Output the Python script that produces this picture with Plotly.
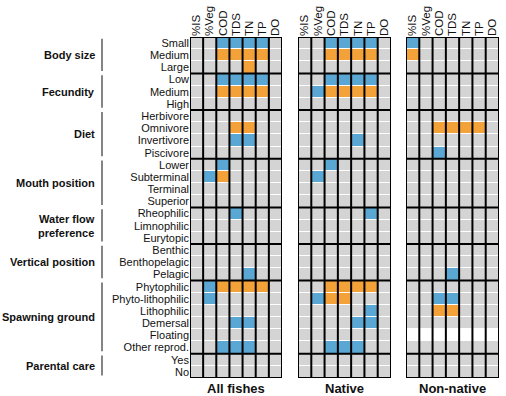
import plotly.graph_objects as go
import numpy as np

variables = ["%IS", "%Veg", "COD", "TDS", "TN", "TP", "DO"]
groups = ["Body size", "Fecundity", "Diet", "Mouth position", "Water flow<br>preference",
          "Vertical position", "Spawning ground", "Parental care"]
group_traits = [
    ["Small", "Medium", "Large"],
    ["Low", "Medium", "High"],
    ["Herbivore", "Omnivore", "Invertivore", "Piscivore"],
    ["Lower", "Subterminal", "Terminal", "Superior"],
    ["Rheophilic", "Limnophilic", "Eurytopic"],
    ["Benthic", "Benthopelagic", "Pelagic"],
    ["Phytophilic", "Phyto-lithophilic", "Lithophilic", "Demersal", "Floating", "Other reprod."],
    ["Yes", "No"],
]
panels = ["All fishes", "Native", "Non-native"]

N = None  # not available
# -1 = negative (blue), 1 = positive (orange), 0 = none (grey), None = NA (white)
all_fishes = [
    [0, 0, -1, -1, -1, -1, 0], [0, 0, 1, 1, 1, 1, 0], [0, 0, 0, 0, 1, 0, 0],
    [0, 0, -1, -1, -1, -1, 0], [0, 0, 1, 1, 1, 1, 0], [0, 0, 0, 0, 0, 0, 0],
    [0, 0, 0, 0, 0, 0, 0], [0, 0, 0, 1, 1, 0, 0], [0, 0, 0, -1, -1, 0, 0], [0, 0, 0, 0, 0, 0, 0],
    [0, 0, -1, 0, 0, 0, 0], [0, -1, 1, 0, 0, 0, 0], [0, 0, 0, 0, 0, 0, 0], [0, 0, 0, 0, 0, 0, 0],
    [0, 0, 0, -1, 0, 0, 0], [0, 0, 0, 0, 0, 0, 0], [0, 0, 0, 0, 0, 0, 0],
    [0, 0, 0, 0, 0, 0, 0], [0, 0, 0, 0, 0, 0, 0], [0, 0, 0, 0, -1, 0, 0],
    [0, -1, 1, 1, 1, 1, 0], [0, -1, 0, 0, 0, 0, 0], [0, 0, 0, 0, 0, 0, 0],
    [0, 0, 0, -1, -1, 0, 0], [0, 0, 0, 0, 0, 0, 0], [0, 0, -1, -1, -1, 0, 0],
    [0, 0, 0, 0, 0, 0, 0], [0, 0, 0, 0, 0, 0, 0],
]
native = [
    [0, 0, -1, -1, -1, -1, 0], [0, 0, 1, 1, 1, 1, 0], [0, 0, 0, 0, 0, 0, 0],
    [0, 0, -1, -1, -1, -1, 0], [0, -1, 1, 1, 1, 1, 0], [0, 0, 0, 0, 0, 0, 0],
    [0, 0, 0, 0, 0, 0, 0], [0, 0, 0, 0, 0, 0, 0], [0, 0, 0, 0, -1, 0, 0], [0, 0, 0, 0, 0, 0, 0],
    [0, 0, -1, 0, 0, 0, 0], [0, -1, 0, 0, 0, 0, 0], [0, 0, 0, 0, 0, 0, 0], [0, 0, 0, 0, 0, 0, 0],
    [0, 0, 0, 0, 0, -1, 0], [0, 0, 0, 0, 0, 0, 0], [0, 0, 0, 0, 0, 0, 0],
    [0, 0, 0, 0, 0, 0, 0], [0, 0, 0, 0, 0, 0, 0], [0, 0, 0, 0, 0, 0, 0],
    [0, 0, 1, 1, 1, 1, 0], [0, -1, 1, 1, 0, 0, 0], [0, 0, 0, 0, 0, -1, 0],
    [0, 0, 0, 0, -1, -1, 0], [0, 0, 0, 0, 0, 0, 0], [0, 0, -1, -1, -1, 0, 0],
    [0, 0, 0, 0, 0, 0, 0], [0, 0, 0, 0, 0, 0, 0],
]
non_native = [
    [-1, 0, 0, 0, 0, 0, 0], [1, 0, 0, 0, 0, 0, 0], [0, 0, 0, 0, 0, 0, 0],
    [0, 0, 0, 0, 0, 0, 0], [0, 0, 0, 0, 0, 0, 0], [0, 0, 0, 0, 0, 0, 0],
    [0, 0, 0, 0, 0, 0, 0], [0, 0, 1, 1, 1, 1, 0], [0, 0, 0, 0, 0, 0, 0], [0, 0, -1, 0, 0, 0, 0],
    [0, 0, 0, 0, 0, 0, 0], [0, 0, 0, 0, 0, 0, 0], [0, 0, 0, 0, 0, 0, 0], [0, 0, 0, 0, 0, 0, 0],
    [0, 0, 0, 0, 0, 0, 0], [0, 0, 0, 0, 0, 0, 0], [0, 0, 0, 0, 0, 0, 0],
    [0, 0, 0, 0, 0, 0, 0], [0, 0, 0, 0, 0, 0, 0], [0, 0, 0, -1, 0, 0, 0],
    [0, 0, 0, 0, 0, 0, 0], [0, 0, -1, -1, 0, 0, 0], [0, 0, 1, 1, 0, 0, 0],
    [0, 0, 0, 0, 0, 0, 0], [N, N, N, N, N, N, N], [0, 0, 0, 0, 0, 0, 0],
    [0, 0, 0, 0, 0, 0, 0], [0, 0, 0, 0, 0, 0, 0],
]
panel_data = [all_fishes, native, non_native]

BLUE = "#5BA7D3"
ORANGE = "#F3A23A"
GREY = "#D4D4D4"
FONT = "Liberation Sans, Arial, sans-serif"

traits = [t for g in group_traits for t in g]
nrow = len(traits)
ncol = len(variables)

W, H = 506, 396
ml, mr, mt, mb = 190, 7, 37, 18
pw = W - ml - mr
px_dom = [(190, 282), (298, 391), (406, 499)]
domains = [[(a - ml) / pw, (b - ml) / pw] for a, b in px_dom]

colorscale = [[0, BLUE], [1 / 3, BLUE], [1 / 3, GREY], [2 / 3, GREY], [2 / 3, ORANGE], [1, ORANGE]]

fig = go.Figure()
axnames = ["x", "x2", "x3"]
for k, data in enumerate(panel_data):
    z = np.array([[np.nan if v is None else v for v in row] for row in data], dtype=float)
    fig.add_trace(go.Heatmap(
        z=z, x=list(range(ncol)), y=list(range(nrow)),
        colorscale=colorscale, zmin=-1, zmax=1, showscale=False,
        ygap=1, xgap=0, hoverinfo="skip",
        xaxis=axnames[k], yaxis="y",
    ))

layout = dict(
    width=W, height=H,
    margin=dict(l=ml, r=mr, t=mt, b=mb, autoexpand=False),
    paper_bgcolor="white", plot_bgcolor="white",
    font=dict(family=FONT, size=11, color="#111111"),
    showlegend=False,
    yaxis=dict(
        range=[nrow - 0.5, -0.5], tickvals=list(range(nrow)), ticktext=traits,
        showgrid=False, zeroline=False, ticks="", anchor="x", automargin=False,
        tickfont=dict(size=11, color="#111111"), fixedrange=True,
    ),
)
for k in range(3):
    key = "xaxis" if k == 0 else f"xaxis{k + 1}"
    layout[key] = dict(
        domain=domains[k], range=[-0.5, ncol - 0.5], side="top",
        tickvals=list(range(ncol)), ticktext=variables, tickangle=-90,
        showgrid=False, zeroline=False, ticks="", anchor="y", automargin=False,
        tickfont=dict(size=11.5, color="#111111"), fixedrange=True,
    )
fig.update_layout(**layout)

shapes = []
bounds = [-0.5]
for g in group_traits:
    bounds.append(bounds[-1] + len(g))
for k in range(3):
    xr = axnames[k]
    for c in range(ncol + 1):
        shapes.append(dict(type="line", xref=xr, yref="y", x0=c - 0.5, x1=c - 0.5,
                           y0=-0.5, y1=nrow - 0.5, line=dict(color="black", width=2)))
    for b in bounds:
        shapes.append(dict(type="line", xref=xr, yref="y", x0=-0.5, x1=ncol - 0.5,
                           y0=b, y1=b, line=dict(color="black", width=2)))

annotations = []
gx_text = (97 - ml) / pw
gx_line = (102 - ml) / pw
for gi, g in enumerate(groups):
    start = bounds[gi] + 0.5
    end = bounds[gi + 1] - 0.5
    annotations.append(dict(text=f"<b>{g}</b>", xref="paper", yref="y", x=gx_text,
                            y=(start + end) / 2, xanchor="right", yanchor="middle",
                            align="right", showarrow=False,
                            font=dict(size=11, color="#111111", family=FONT)))
    shapes.append(dict(type="line", xref="paper", yref="y", x0=gx_line, x1=gx_line,
                       y0=start - 0.35, y1=end + 0.3, line=dict(color="#333333", width=1.2)))

for k, p in enumerate(panels):
    annotations.append(dict(text=f"<b>{p}</b>", xref="paper", yref="paper",
                            x=sum(domains[k]) / 2, y=0, xanchor="center", yanchor="top",
                            yshift=-1, showarrow=False,
                            font=dict(size=13, color="#111111", family=FONT)))

fig.update_layout(shapes=shapes, annotations=annotations)
fig.write_html("out.html", config={"displayModeBar": False},
               post_script="document.body.style.margin='0px';document.body.style.padding='0px';")
